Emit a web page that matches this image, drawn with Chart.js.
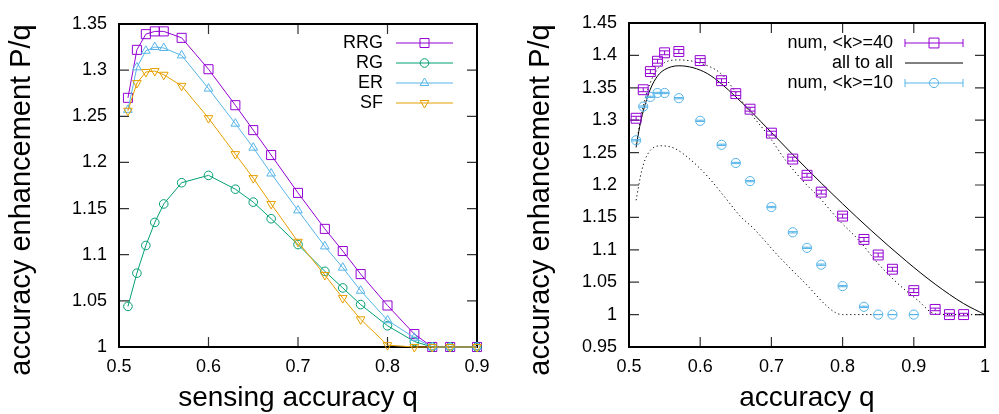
<!DOCTYPE html>
<html>
<head>
<meta charset="utf-8">
<title>accuracy enhancement</title>
<script src="https://cdn.jsdelivr.net/npm/chart.js@4.4.0/dist/chart.umd.min.js"></script>
<style>
  html, body { margin: 0; padding: 0; background: #fff; }
  #wrap { position: relative; width: 999px; height: 414px; overflow: hidden; }
  canvas { position: absolute; top: 0; }
  #left { left: 0; }
  #right { left: 500px; }
</style>
</head>
<body>
<div id="wrap">
  <canvas id="left" width="500" height="414"></canvas>
  <canvas id="right" width="499" height="414"></canvas>
</div>
<script>
// ---- left panel: network types ----
const qLeft = [0.51, 0.52, 0.53, 0.54, 0.55, 0.57, 0.60, 0.63, 0.65, 0.67, 0.70, 0.73, 0.75, 0.77, 0.80, 0.83, 0.85, 0.87, 0.90];
const rrg = [1.270, 1.322, 1.339, 1.342, 1.342, 1.335, 1.301, 1.262, 1.235, 1.208, 1.167, 1.128, 1.104, 1.079, 1.045, 1.014, 1.0, 1.0, 1.0];
const rg  = [1.044, 1.080, 1.110, 1.135, 1.155, 1.178, 1.186, 1.171, 1.157, 1.139, 1.111, 1.082, 1.064, 1.046, 1.023, 1.006, 1.0, 1.0, 1.0];
const er  = [1.257, 1.303, 1.321, 1.325, 1.324, 1.316, 1.280, 1.242, 1.216, 1.188, 1.148, 1.109, 1.086, 1.061, 1.029, 1.010, 1.0, 1.0, 1.0];
const sf  = [1.256, 1.286, 1.298, 1.299, 1.295, 1.283, 1.248, 1.209, 1.183, 1.155, 1.114, 1.078, 1.053, 1.030, 1.002, 1.0, 1.0, 1.0, 1.0];
const xTicksLeft = [0.5, 0.6, 0.7, 0.8, 0.9];
const yTicksLeft = [1, 1.05, 1.1, 1.15, 1.2, 1.25, 1.3, 1.35];

// ---- right panel: simulation vs all-to-all ----
const qK40 = [0.51, 0.52, 0.53, 0.54, 0.55, 0.57, 0.60, 0.63, 0.65, 0.67, 0.70, 0.73, 0.75, 0.77, 0.80, 0.83, 0.85, 0.87, 0.90, 0.93, 0.95, 0.97];
const k40 = [1.303, 1.347, 1.375, 1.391, 1.404, 1.406, 1.392, 1.361, 1.341, 1.317, 1.280, 1.240, 1.215, 1.189, 1.152, 1.116, 1.092, 1.070, 1.037, 1.008, 1.0, 1.0];
const errK40 = [0.003, 0.003, 0.003, 0.003, 0.003, 0.003, 0.003, 0.003, 0.003, 0.003, 0.003, 0.003, 0.003, 0.003, 0.003, 0.003, 0.003, 0.003, 0.003, 0.002, 0.002, 0.002];
const qK10 = [0.51, 0.52, 0.53, 0.54, 0.55, 0.57, 0.60, 0.63, 0.65, 0.67, 0.70, 0.73, 0.75, 0.77, 0.80, 0.83, 0.85, 0.87, 0.90];
const k10 = [1.269, 1.321, 1.336, 1.342, 1.342, 1.334, 1.299, 1.262, 1.234, 1.206, 1.166, 1.127, 1.103, 1.077, 1.044, 1.012, 1.0, 1.0, 1.0];
const errK10 = [0.001, 0.001, 0.001, 0.001, 0.001, 0.001, 0.001, 0.001, 0.001, 0.001, 0.001, 0.001, 0.001, 0.001, 0.001, 0.001, 0.0, 0.0, 0.0];
const qAll = [0.51, 0.515, 0.52, 0.53, 0.54, 0.55, 0.57, 0.59, 0.61, 0.63, 0.65, 0.67, 0.70, 0.73, 0.77, 0.80, 0.84, 0.89, 0.93, 0.97, 1.0];
const allToAll = [1.258, 1.290, 1.314, 1.348, 1.368, 1.378, 1.384, 1.381, 1.372, 1.356, 1.336, 1.315, 1.281, 1.247, 1.203, 1.171, 1.130, 1.082, 1.047, 1.017, 1.0];
const qUpper = [0.51, 0.52, 0.53, 0.54, 0.55, 0.57, 0.60, 0.63, 0.65, 0.667, 0.697, 0.72, 0.748, 0.767, 0.795, 0.823, 0.85, 0.878, 0.906, 0.93, 0.96, 1.0];
const upperDots = [1.262, 1.322, 1.358, 1.379, 1.389, 1.393, 1.388, 1.371, 1.343, 1.316, 1.2745, 1.238, 1.202, 1.181, 1.1455, 1.1145, 1.0785, 1.0475, 1.0217, 1.001, 1.0, 1.0];
const qLower = [0.51, 0.518, 0.527, 0.545, 0.564, 0.5875, 0.611, 0.634, 0.657, 0.674, 0.711, 0.753, 0.775, 0.79, 0.80, 0.85];
const lowerDots = [1.1765, 1.223, 1.249, 1.2605, 1.2565, 1.238, 1.2125, 1.182, 1.151, 1.134, 1.089, 1.042, 1.016, 1.003, 1.0, 1.0];
const xTicksRight = [0.5, 0.6, 0.7, 0.8, 0.9, 1];
const yTicksRight = [0.95, 1, 1.05, 1.1, 1.15, 1.2, 1.25, 1.3, 1.35, 1.4, 1.45];

const FONT = '"Liberation Sans", Arial, Helvetica, sans-serif';
const PURPLE = '#9400d3', GREEN = '#009e73', BLUE = '#56b4e9', ORANGE = '#e69f00';

function pts(xs, ys){
  return xs.map((x, i) => ({ x, y: ys[i] }));
}

function fmt(v){
  return String(+Number(v).toFixed(2));
}

// gnuplot-ish frame: thick border, inward ticks on all four sides
const framePlugin = {
  id: 'frame',
  beforeDatasetsDraw(chart){
    const { ctx, chartArea: a, scales } = chart;
    const len = 10;
    ctx.save();
    ctx.strokeStyle = '#333';
    ctx.lineWidth = 1.2;
    ctx.beginPath();
    scales.x.ticks.forEach(t => {
      const px = scales.x.getPixelForValue(t.value);
      ctx.moveTo(px, a.bottom); ctx.lineTo(px, a.bottom - len);
      ctx.moveTo(px, a.top); ctx.lineTo(px, a.top + len);
    });
    scales.y.ticks.forEach(t => {
      const py = scales.y.getPixelForValue(t.value);
      ctx.moveTo(a.left, py); ctx.lineTo(a.left + len, py);
      ctx.moveTo(a.right, py); ctx.lineTo(a.right - len, py);
    });
    ctx.stroke();
    ctx.strokeStyle = '#000';
    ctx.lineWidth = 2;
    ctx.strokeRect(a.left, a.top, a.right - a.left, a.bottom - a.top);
    ctx.restore();
  }
};

// y label drawn by hand so it can sit a bit lower than the plot centre
const yLabelPlugin = {
  id: 'ylabel',
  afterDraw(chart, args, opts){
    const ctx = chart.ctx;
    ctx.save();
    ctx.translate(opts.x, opts.y);
    ctx.rotate(-Math.PI / 2);
    ctx.font = opts.size + 'px ' + FONT;
    ctx.fillStyle = '#000';
    ctx.textAlign = 'center';
    ctx.textBaseline = 'middle';
    ctx.fillText(opts.text, 0, 0);
    ctx.restore();
  }
};

// small y error bars (caps) for datasets carrying yErr
const errPlugin = {
  id: 'errbars',
  afterDatasetsDraw(chart){
    const ctx = chart.ctx;
    const ys = chart.scales.y;
    chart.data.datasets.forEach((ds, i) => {
      if (!ds.yErr) return;
      const meta = chart.getDatasetMeta(i);
      const hw = ds.capHalf || 5;
      ctx.save();
      ctx.strokeStyle = ds.borderColor;
      ctx.lineWidth = 1;
      ctx.beginPath();
      meta.data.forEach((p, j) => {
        const v = ds.data[j].y, e = ds.yErr[j];
        const top = ys.getPixelForValue(v + e), bot = ys.getPixelForValue(v - e);
        ctx.moveTo(p.x, top); ctx.lineTo(p.x, bot);
        ctx.moveTo(p.x - hw, top); ctx.lineTo(p.x + hw, top);
        ctx.moveTo(p.x - hw, bot); ctx.lineTo(p.x + hw, bot);
      });
      ctx.stroke();
      ctx.restore();
    });
  }
};

// key in the top right, text right-aligned with sample on its right
const keyPlugin = {
  id: 'keyBox',
  afterDraw(chart, args, opts){
    const ctx = chart.ctx;
    ctx.save();
    ctx.font = '18px ' + FONT;
    ctx.textAlign = 'right';
    ctx.textBaseline = 'middle';
    opts.items.forEach((idx, i) => {
      const ds = chart.data.datasets[idx];
      const y = opts.top + i * opts.gap;
      const mid = (opts.x1 + opts.x2) / 2;
      ctx.fillStyle = '#000';
      ctx.fillText(ds.label, opts.textRight, y);
      ctx.strokeStyle = ds.borderColor;
      ctx.lineWidth = 1;
      ctx.beginPath();
      ctx.moveTo(opts.x1, y); ctx.lineTo(opts.x2, y);
      if (ds.yErr) {
        ctx.moveTo(opts.x1, y - 4); ctx.lineTo(opts.x1, y + 4);
        ctx.moveTo(opts.x2, y - 4); ctx.lineTo(opts.x2, y + 4);
      }
      ctx.stroke();
      if (ds.pointRadius > 0) {
        ctx.fillStyle = 'rgba(0,0,0,0)';
        Chart.helpers.drawPoint(ctx, {
          pointStyle: ds.pointStyle,
          rotation: ds.pointRotation || 0,
          radius: ds.pointRadius,
          borderWidth: 1
        }, mid, y);
      }
    });
    ctx.restore();
  }
};

function scaleOpts(min, max, ticks, title, fit, titlePad, tickPad, horizontal){
  return {
    type: 'linear',
    min, max,
    afterBuildTicks: s => { s.ticks = ticks.map(v => ({ value: v })); },
    afterFit: s => { if (horizontal) s.height = fit; else s.width = fit; },
    grid: { display: false, drawTicks: false },
    border: { display: false },
    ticks: {
      color: '#000',
      padding: tickPad,
      maxRotation: 0,
      autoSkip: false,
      font: { family: FONT, size: 18 },
      callback: v => fmt(v)
    },
    title: {
      display: !!title,
      text: title,
      color: '#000',
      font: { family: FONT, size: 28, lineHeight: 1 },
      padding: { top: 0, bottom: titlePad }
    }
  };
}

function lineSet(label, data, color, style, radius, rotation, order){
  return {
    label, data,
    borderColor: color,
    backgroundColor: 'rgba(0,0,0,0)',
    borderWidth: 1,
    pointStyle: style,
    pointRadius: radius,
    pointRotation: rotation,
    pointBorderWidth: 1,
    tension: 0,
    clip: false,
    order
  };
}

new Chart(document.getElementById('left'), {
  type: 'line',
  data: {
    datasets: [
      lineSet('RRG', pts(qLeft, rrg), PURPLE, 'rect', 6.4, 0, 4),
      lineSet('RG', pts(qLeft, rg), GREEN, 'circle', 4.3, 0, 3),
      lineSet('ER', pts(qLeft, er), BLUE, 'triangle', 5, 0, 2),
      lineSet('SF', pts(qLeft, sf), ORANGE, 'triangle', 5, 180, 1)
    ]
  },
  options: {
    responsive: false,
    animation: false,
    events: [],
    layout: { padding: { left: 0, right: 23, top: 24, bottom: 0 } },
    scales: {
      x: scaleOpts(0.5, 0.9, xTicksLeft, 'sensing accuracy q', 67, 1.5, 9, true),
      y: scaleOpts(1, 1.35, yTicksLeft, '', 119, 0, 12, false)
    },
    plugins: {
      legend: { display: false },
      tooltip: { enabled: false },
      ylabel: { text: 'accuracy enhancement P/q', x: 22, y: 200, size: 29 },
      keyBox: { items: [0, 1, 2, 3], textRight: 383, x1: 396, x2: 453, top: 43, gap: 20 }
    }
  },
  plugins: [framePlugin, keyPlugin, yLabelPlugin]
});

const k40Set = lineSet('num, <k>=40', pts(qK40, k40), PURPLE, 'rect', 7, 0, 0);
k40Set.showLine = false;
k40Set.yErr = errK40;
const k10Set = lineSet('num, <k>=10', pts(qK10, k10), BLUE, 'circle', 4.6, 0, 1);
k10Set.showLine = false;
k10Set.yErr = errK10;
k10Set.capHalf = 4.5;
const allSet = lineSet('all to all', pts(qAll, allToAll), '#000', 'circle', 0, 0, 3);
const upSet = lineSet('', pts(qUpper, upperDots), '#000', 'circle', 0, 0, 4);
upSet.borderDash = [1.2, 2.8];
const lowSet = lineSet('', pts(qLower, lowerDots), '#000', 'circle', 0, 0, 5);
lowSet.borderDash = [1.2, 2.8];
// theory curves are smooth in the original
[allSet, upSet, lowSet].forEach(ds => { ds.cubicInterpolationMode = 'monotone'; });

new Chart(document.getElementById('right'), {
  type: 'line',
  data: { datasets: [k40Set, allSet, k10Set, upSet, lowSet] },
  options: {
    responsive: false,
    animation: false,
    events: [],
    layout: { padding: { left: 0, right: 12, top: 23, bottom: 0 } },
    scales: {
      x: scaleOpts(0.5, 1, xTicksRight, 'accuracy q', 67, 1.5, 9, true),
      y: scaleOpts(0.95, 1.45, yTicksRight, '', 129, 0, 12, false)
    },
    plugins: {
      legend: { display: false },
      tooltip: { enabled: false },
      ylabel: { text: 'accuracy enhancement P/q', x: 41, y: 200, size: 29 },
      keyBox: { items: [0, 1, 2], textRight: 393, x1: 405, x2: 463, top: 43, gap: 20 }
    }
  },
  plugins: [framePlugin, errPlugin, keyPlugin, yLabelPlugin]
});
</script>
</body>
</html>
